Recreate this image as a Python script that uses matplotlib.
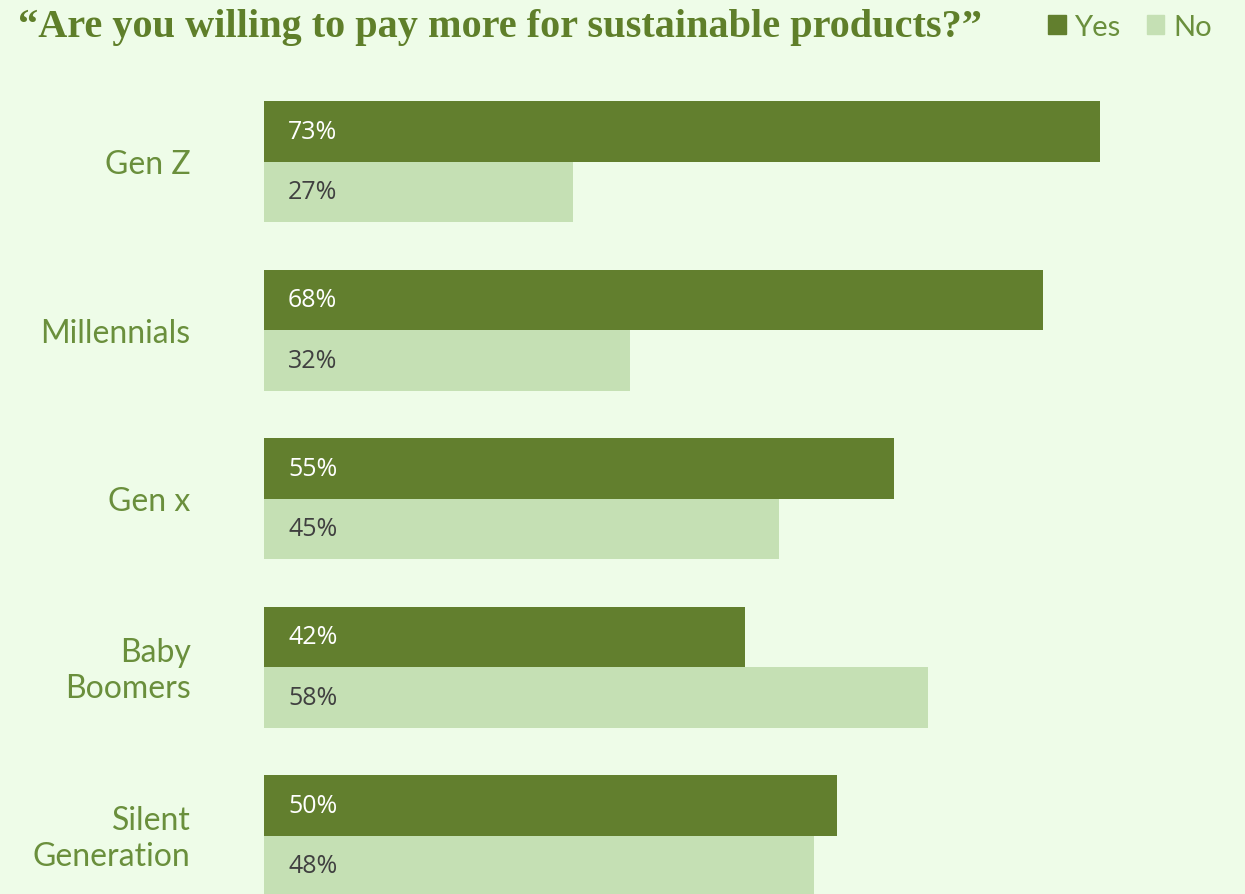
import matplotlib
matplotlib.use("Agg")
import matplotlib.pyplot as plt
from matplotlib.patches import Patch

# Data
generations = ["Gen Z", "Millennials", "Gen x", "Baby\nBoomers", "Silent\nGeneration"]
yes_pct = [73, 68, 55, 42, 50]
no_pct = [27, 32, 45, 58, 48]

yes_color = "#627f2e"
no_color = "#c5e0b4"
bg_color = "#eefce8"
label_color = "#6a8f3c"

fig = plt.figure(figsize=(12.45, 8.95), dpi=100)
fig.patch.set_facecolor(bg_color)

# axes starts at pixel x=264, spans to right edge; top at pixel 70
ax = fig.add_axes([264 / 1245, 0, (1245 - 264) / 1245, (895 - 70) / 895])
ax.set_facecolor(bg_color)

px_per_pct = 11.45
ax.set_xlim(0, (1245 - 264) / px_per_pct)
ax.set_ylim((895 - 162.5) / 168.5, (70 - 162.5) / 168.5)

h = 60.5 / 168.5
ypos = list(range(len(generations)))
ax.barh([y - h / 2 for y in ypos], yes_pct, height=h, color=yes_color)
ax.barh([y + h / 2 for y in ypos], no_pct, height=h, color=no_color)

for y, v in zip(ypos, yes_pct):
    ax.text(2.1, y - h / 2, f"{v}%", color="white", fontsize=18,
            family="Open Sans", va="center", ha="left")
for y, v in zip(ypos, no_pct):
    ax.text(2.1, y + h / 2, f"{v}%", color="#404040", fontsize=18,
            family="Open Sans", va="center", ha="left")

for y, name in zip(ypos, generations):
    ax.text(-6.4, y + 0.015, name, color=label_color, fontsize=23, family="Lato",
            va="center", ha="right", linespacing=1.25, clip_on=False)

ax.set_xticks([])
ax.set_yticks([])
for s in ax.spines.values():
    s.set_visible(False)

fig.text(18 / 1245, 1 - 28 / 895, "\u201cAre you willing to pay more for sustainable products?\u201d",
         color="#5f7f2a", fontsize=29, fontweight="bold", family="Liberation Serif",
         va="center", ha="left")

handles = [Patch(color=yes_color, label="Yes"), Patch(color=no_color, label="No")]
fig.legend(handles=handles, loc="center right", bbox_to_anchor=(1238 / 1245, 1 - 28 / 895),
           ncol=2, frameon=False, labelcolor=label_color,
           handlelength=0.6, handleheight=0.6, handletextpad=0.3, columnspacing=0.9,
           prop={"family": "Lato", "size": 21})

fig.savefig("out.png", dpi=100, facecolor=bg_color)
